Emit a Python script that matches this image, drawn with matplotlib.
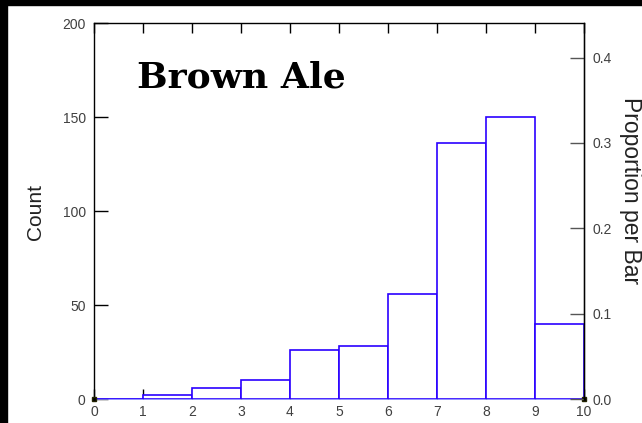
"""
Histogramm Brown Ale: Anzahl (links) und Anteil pro Balken (rechts)
"""
import matplotlib.pyplot as plt
from matplotlib.lines import Line2D
import numpy as np

# Daten
bin_edges = [0, 1, 2, 3, 4, 5, 6, 7, 8, 9, 10]
counts = [0, 2, 6, 10, 26, 28, 56, 136, 150, 40]
count_ticks = [0, 50, 100, 150, 200]
prop_ticks = [0.0, 0.1, 0.2, 0.3, 0.4]
prop_labels = ['0.0', '0.1', '0.2', '0.3', '0.4']
title = 'Brown Ale'

plt.rcParams['font.family'] = ['Liberation Sans', 'DejaVu Sans']

W, H = 642, 423
fig = plt.figure(figsize=(W / 100, H / 100), dpi=100, facecolor='white')

# schwarzer Rand oben und links
fig.patches.append(plt.Rectangle((0, 1 - 5 / H), 1, 5 / H, transform=fig.transFigure,
                                 color='black', zorder=0))
fig.patches.append(plt.Rectangle((0, 0), 7 / W, 1, transform=fig.transFigure,
                                 color='black', zorder=0))

left, right, top, bottom = 94, 584, 23, 399
ax = fig.add_axes([left / W, 1 - bottom / H, (right - left) / W, (bottom - top) / H])

edges = np.array(bin_edges, dtype=float)
widths = np.diff(edges)
ax.bar(edges[:-1], counts, width=widths, align='edge', facecolor='white',
       edgecolor='#2a00ff', linewidth=1.2, zorder=3)

ax.set_xlim(0, 10)
ax.set_ylim(0, 200)
ax.set_xticks(bin_edges)
ax.set_yticks(count_ticks)

tick_color = '#404040'
ax.tick_params(axis='x', direction='in', length=7, width=1, color='black',
               labelsize=10, labelcolor=tick_color, pad=4, top=True, labeltop=False)
ax.tick_params(axis='y', direction='in', length=10, width=1, color='black',
               labelsize=10, labelcolor=tick_color, pad=6, right=False)

for s in ['left', 'top']:
    ax.spines[s].set_color('black')
    ax.spines[s].set_linewidth(1)
ax.spines['bottom'].set_color('#7f7fff')
ax.spines['bottom'].set_linewidth(1.2)

# kleine Markierungen an den Achsenenden
ax.plot([0, 10], [0, 0], 's', ms=3.5, mfc='black', mec='#222200', clip_on=False, zorder=5)

# rechte Achse: Anteil pro Balken
ax2 = ax.twinx()
ax2.set_ylim(0, 200 / sum(counts))
ax2.set_yticks(prop_ticks)
ax2.set_yticklabels(prop_labels)
ax2.tick_params(axis='y', direction='in', length=10, width=1, color='#555555',
                labelsize=10, labelcolor=tick_color, pad=6)
for s in ['left', 'top', 'bottom']:
    ax2.spines[s].set_visible(False)

# rechte Achsenlinie explizit
x_r = (right - 0.5) / W
fig.add_artist(Line2D([x_r, x_r], [1 - bottom / H, 1 - top / H], color='black',
                      linewidth=1, transform=fig.transFigure, zorder=10))

# Beschriftungen
fig.text(35 / W, 1 - 212 / H, 'Count', rotation=90, ha='center', va='center',
         fontsize=15, color='#222222')
fig.text(619 / W, 1 - 191 / H, 'Proportion per Bar', rotation=270, ha='left',
         va='center', fontsize=16.5, color='#222222')
fig.text(137 / W, 1 - 87 / H, title, ha='left', va='baseline', fontsize=26,
         fontweight='bold', family='DejaVu Serif', color='black')

plt.savefig('out.png', dpi=100, facecolor=fig.get_facecolor())
